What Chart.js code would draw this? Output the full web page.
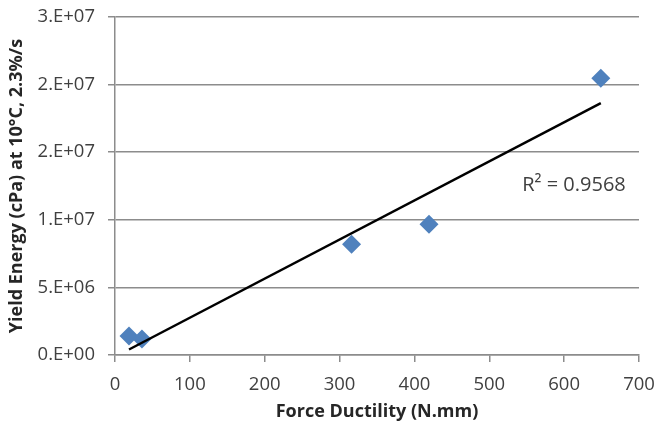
<!DOCTYPE html>
<html>
<head>
<meta charset="utf-8">
<script src="https://cdn.jsdelivr.net/npm/chart.js@4.4.1/dist/chart.umd.min.js"></script>
<style>
  body { margin: 0; background: #fff; }
  #wrap { width: 657px; height: 430px; }
</style>
</head>
<body>
<div id="wrap"><canvas id="yieldChart" width="657" height="430"></canvas></div>
<script>
// Values
const ductility = [18.7, 36, 316, 419.5, 649];              // N.mm
const yieldEnergy = [1.41e6, 1.18e6, 8.19e6, 9.67e6, 2.047e7]; // cPa
const yTickLabels = ['0.E+00', '5.E+06', '1.E+07', '2.E+07', '2.E+07', '3.E+07'];
const r2Label = 'R\u00b2 = 0.9568';
const r2Pos = { x: 544, y: 1.257e7 };

// least squares trendline through the points
function linearFit(xs, ys) {
    const n = xs.length;
    const mx = xs.reduce((a, b) => a + b, 0) / n;
    const my = ys.reduce((a, b) => a + b, 0) / n;
    let sxy = 0, sxx = 0;
    for (let i = 0; i < n; i++) {
        sxy += (xs[i] - mx) * (ys[i] - my);
        sxx += (xs[i] - mx) * (xs[i] - mx);
    }
    const slope = sxy / sxx;
    return { slope: slope, intercept: my - slope * mx };
}

const fit = linearFit(ductility, yieldEnergy);
const xMin = Math.min(...ductility);
const xMax = Math.max(...ductility);
const trend = [xMin, xMax].map(function (x) {
    return { x: x, y: fit.intercept + fit.slope * x };
});

const gridGray = '#8c8c8c';
const textGray = '#404040';

const r2Plugin = {
    id: 'r2Text',
    afterDatasetsDraw(chart) {
        const ctx = chart.ctx;
        const px = chart.scales.x.getPixelForValue(r2Pos.x);
        const py = chart.scales.y.getPixelForValue(r2Pos.y);
        ctx.save();
        ctx.font = '20px "Open Sans"';
        ctx.fillStyle = textGray;
        ctx.textAlign = 'left';
        ctx.textBaseline = 'middle';
        ctx.fillText(r2Label, px, py);
        ctx.restore();
    }
};

new Chart(document.getElementById('yieldChart'), {
    type: 'scatter',
    data: {
        datasets: [{
            label: 'data',
            data: ductility.map((x, i) => ({ x: x, y: yieldEnergy[i] })),
            pointStyle: 'rectRot',
            pointRadius: 9.5,
            pointBackgroundColor: '#4f81bd',
            pointBorderColor: '#4f81bd',
            pointBorderWidth: 0,
            order: 1
        }, {
            label: 'trend',
            data: trend,
            showLine: true,
            borderColor: '#000',
            borderWidth: 2.5,
            pointRadius: 0,
            order: 0
        }]
    },
    options: {
        responsive: false,
        animation: false,
        layout: { padding: { top: 17, right: 18, left: 0, bottom: 0 } },
        plugins: {
            legend: { display: false },
            tooltip: { enabled: false }
        },
        scales: {
            x: {
                type: 'linear',
                min: 0,
                max: 700,
                ticks: {
                    stepSize: 100,
                    color: textGray,
                    font: { family: 'Open Sans', size: 18.5 },
                    padding: 12,
                    maxRotation: 0
                },
                grid: {
                    drawOnChartArea: false,
                    drawTicks: true,
                    tickLength: 7,
                    color: gridGray,
                    lineWidth: 1.5
                },
                border: { color: gridGray, width: 1.5 },
                title: {
                    display: true,
                    text: 'Force Ductility (N.mm)',
                    color: '#262626',
                    font: { family: 'Open Sans', size: 18, weight: 'bold' },
                    padding: { top: 0, bottom: 7 }
                },
                afterFit(scale) {
                    scale.height = 75;
                    scale.paddingLeft = 0;
                    scale.paddingRight = 0;
                }
            },
            y: {
                min: 0,
                max: 2.5e7,
                ticks: {
                    stepSize: 5e6,
                    color: textGray,
                    font: { family: 'Open Sans', size: 18.5 },
                    padding: 13,
                    callback: function (value, index) { return yTickLabels[index]; }
                },
                grid: {
                    drawTicks: true,
                    tickLength: 7,
                    color: gridGray,
                    lineWidth: 1.5
                },
                border: { color: gridGray, width: 1.5 },
                title: {
                    display: true,
                    text: 'Yield Energy (cPa) at 10\u00b0C, 2.3%/s',
                    color: '#262626',
                    font: { family: 'Open Sans', size: 18, weight: 'bold' },
                    padding: { top: 6, bottom: 0 }
                },
                afterFit(scale) {
                    scale.width = 115;
                    scale.paddingTop = 0;
                    scale.paddingBottom = 0;
                }
            }
        }
    },
    plugins: [r2Plugin]
});
</script>
</body>
</html>
